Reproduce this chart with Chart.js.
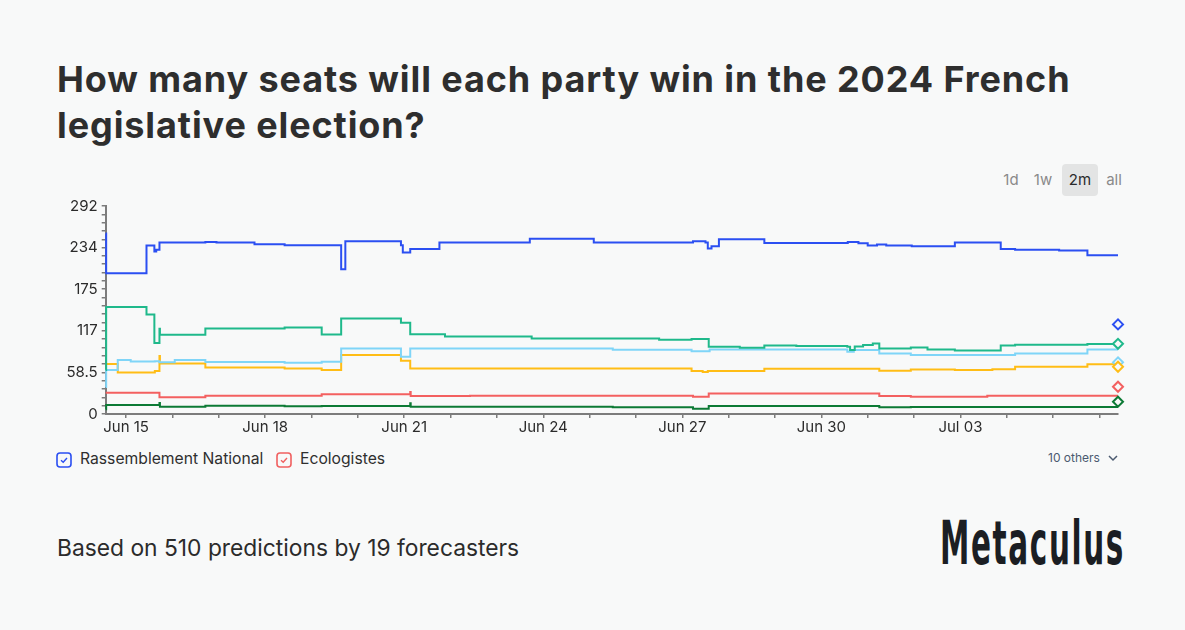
<!DOCTYPE html>
<html><head><meta charset="utf-8">
<script src="https://cdn.jsdelivr.net/npm/chart.js@4.4.1/dist/chart.umd.min.js"></script>
<style>
html,body{margin:0;padding:0;background:#f8f9f9;}
body{width:1185px;height:630px;position:relative;overflow:hidden;font-family:Inter,'Noto Sans',sans-serif;color:#2b2b2b;}
#title{position:absolute;left:57px;top:56px;width:1110px;font-size:36px;font-weight:700;line-height:46px;color:#2e2e2e;letter-spacing:0.9px;}
#chartwrap{position:absolute;left:0;top:0;width:1185px;height:445px;}
.btn{position:absolute;top:164px;height:32px;line-height:32px;font-size:15px;color:#8a8a8a;text-align:center;}
.btn.on{background:#e3e4e4;border-radius:4px;color:#2b2b2b;}
.leg{position:absolute;top:448px;height:22px;line-height:22px;font-size:15.7px;color:#2f2f2f;}
.leg svg{position:absolute;left:0;top:4px;}
#others{position:absolute;left:1048px;top:449px;font-size:12px;line-height:18px;color:#4b5a70;}
#based{position:absolute;left:57px;top:535px;font-size:22.8px;line-height:26px;color:#2b2b2b;}
#logo{position:absolute;left:940px;top:512px;font-family:'Liberation Sans Narrow','DejaVu Sans Condensed',sans-serif;font-weight:700;font-size:61px;line-height:61px;color:#1b1e23;transform-origin:0 0;white-space:nowrap;letter-spacing:3px;}
</style></head>
<body>
<div id="title">How many seats will each party win in the 2024 French legislative election?</div>
<div class="btn" style="left:1000px;width:22px;">1d</div>
<div class="btn" style="left:1031px;width:24px;">1w</div>
<div class="btn on" style="left:1062px;width:36px;">2m</div>
<div class="btn" style="left:1103px;width:22px;">all</div>
<div id="chartwrap"><canvas id="c"></canvas></div>
<div class="leg" style="left:56px;padding-left:24px;"><svg width="16" height="16" viewBox="0 0 16 16"><rect x="1" y="1" width="14" height="14" rx="3" fill="none" stroke="#2b4ff2" stroke-width="1.6"/><path d="M5 8.2 L7.2 10.3 L11 6" fill="none" stroke="#2b4ff2" stroke-width="1.4"/></svg>Rassemblement National</div>
<div class="leg" style="left:276px;padding-left:24px;"><svg width="16" height="16" viewBox="0 0 16 16"><rect x="1" y="1" width="14" height="14" rx="3" fill="none" stroke="#f06060" stroke-width="1.6"/><path d="M5 8.2 L7.2 10.3 L11 6" fill="none" stroke="#f06060" stroke-width="1.4"/></svg>Ecologistes</div>
<div id="others">10 others <svg width="12" height="10" viewBox="0 0 12 10" style="margin-left:4px;vertical-align:-1px"><path d="M2 3 L6 7 L10 3" fill="none" stroke="#4b5a70" stroke-width="1.5"/></svg></div>
<div id="based">Based on 510 predictions by 19 forecasters</div>
<div id="logo">Metaculus</div>
<script>
// x values: days since Jun 15 (00:00)
const xMin = -0.44, xMax = 21.4;
const xTickDays = [0,1,2,3,4,5,6,7,8,9,10,11,12,13,14,15,16,17,18,19,20,21];
const xLabelDays = [0,3,6,9,12,15,18];
const xLabels = ['Jun 15','Jun 18','Jun 21','Jun 24','Jun 27','Jun 30','Jul 03'];
const yTickValues = [0,11.7,23.4,35.1,46.8,58.5,70.2,81.9,93.6,105.3,117,128.7,140.4,152.1,163.8,175.5,187.2,198.9,210.6,222.3,234,245.7,257.4,269.1,280.8,292.5];
const yLabels = ['0','58.5','117','175','234','292'];

const blueT = [-0.44,-0.43,0.44,0.61,0.65,0.72,1.71,1.95,2.77,3.42,4.64,4.73,5.93,5.97,6.13,6.76,8.71,10.09,12.23,12.5,12.55,12.63,12.79,13.77,15.57,15.8,16.0,16.2,16.4,16.95,17.88,18.87,19.18,20.13,20.74,21.4];
const blueV = [254,198,236.8,228.4,231,241,242,241,238.6,237.3,203.6,243,237.3,227,232,241,246.6,241,243,241,232.6,236,245.7,240.5,242,240,236.8,238.5,236.8,235.8,241,232,231,230,223.2,223.2];

const tealT = [-0.44,-0.43,0.44,0.61,0.72,0.73,1.71,3.42,4.22,4.64,5.93,6.13,6.88,8.75,11.5,12.2,12.57,13.24,13.77,14.46,15.56,15.62,15.72,15.9,16.11,16.25,16.93,17.29,17.88,18.87,19.18,20.74,21.4];
const tealV = [62,150.6,140,100,120,111.4,120.3,121.7,111.9,134.3,128.2,112.3,109,106.2,104.4,105.5,94.5,93.1,96.4,95.5,94.5,89.9,95,97,99.2,92.2,93.6,90.8,89.4,96.4,97.3,98.3,98.3];

const lightT = [-0.44,-0.43,-0.18,0.1,0.62,0.72,1.05,1.71,3.42,4.22,4.64,5.93,6.13,10.5,12.2,12.59,15.56,15.7,16.25,16.93,19.18,20.74,21.4];
const lightV = [38,61.8,75.8,74,74.3,72.6,75.8,73,72,73.4,92.2,80.5,92.2,90.3,88.4,90.8,87.5,90,85.2,82.8,85.2,90.8,90.8];

const yellowT = [-0.44,-0.18,0.62,0.72,0.73,1.71,3.42,4.22,4.64,5.93,6.13,12.2,12.44,12.55,13.77,16.25,16.93,17.88,18.69,19.18,20.74,21.4];
const yellowV = [70.2,58.5,60.4,81.4,71.1,65.5,64.1,61.8,82.8,74.9,64.1,60.4,59,60.4,63.6,60.8,62.7,61.8,63.1,66.4,69.8,69.8];

const redT = [-0.44,0.72,1.71,4.22,6.13,6.14,7.42,12.23,12.57,16.25,16.93,18.58,21.4];
const redV = [29.9,23.4,25.7,27.6,31,25.3,25.7,24.3,29,25.3,24.3,25.7,25.7];

const greenT = [-0.44,-0.43,0.72,0.73,1.71,3.42,4.22,6.13,6.14,10.5,12.23,12.57,16.25,16.93,21.4];
const greenV = [6.6,12.6,15.5,10.3,11.7,11,11.2,15,10.3,9.4,7.5,11.2,9.4,9.8,9.8];

const markerV = [126,98.7,72.6,66.4,38.3,17.3];
const colors = ['#2b4ff2','#1fb98b','#7fd5f8','#ffbd16','#f36060','#0c7a35'];

const pts = (t,v) => t.map((x,i)=>({x:x,y:v[i]}));
const series = [[blueT,blueV],[tealT,tealV],[lightT,lightV],[yellowT,yellowV],[redT,redV],[greenT,greenV]];

const datasets = [{
  data: markerV.map(v=>({x:xMax,y:v})),
  showLine:false, pointStyle:'rectRot', pointRadius:5, pointBorderWidth:2,
  pointBorderColor:colors, pointBackgroundColor:'#f8f9f9', clip:false
}];
series.forEach((s,i)=>datasets.push({
  data: pts(s[0],s[1]), stepped:'before', borderColor:colors[i], borderWidth:2,
  pointRadius:0, fill:false, clip:false
}));

new Chart(document.getElementById('c'), {
  type:'line',
  data:{datasets},
  options:{
    responsive:true, maintainAspectRatio:false, animation:false,
    layout:{padding:{left:40,right:67,top:206,bottom:0}},
    plugins:{legend:{display:false},tooltip:{enabled:false}},
    scales:{
      x:{type:'linear',min:xMin,max:xMax,
        afterBuildTicks:s=>{s.ticks=xTickDays.map(v=>({value:v}));},
        afterFit:s=>{s.height=31;},
        ticks:{autoSkip:false,maxRotation:0,padding:0,color:'#2b2b2b',font:{family:'Inter',size:15},
          callback:(v)=>{const k=xLabelDays.indexOf(v);return k>=0?xLabels[k]:'';}},
        grid:{drawOnChartArea:false,drawTicks:true,tickLength:4,color:'#7c7c7c',lineWidth:1.5},
        border:{display:true,color:'#7c7c7c',width:2}},
      y:{type:'linear',min:0,max:292.5,
        afterBuildTicks:s=>{s.ticks=yTickValues.map(v=>({value:v}));},
        afterFit:s=>{s.width=65.7;},
        ticks:{autoSkip:false,padding:4,color:'#2b2b2b',font:{family:'Inter',size:15},
          callback:(v,i)=> i%5===0 ? yLabels[i/5] : ''},
        grid:{drawOnChartArea:false,drawTicks:true,tickLength:4,color:'#7c7c7c',lineWidth:1.5},
        border:{display:true,color:'#7c7c7c',width:2}}
    }
  }
});

const logo=document.getElementById('logo');
const w=logo.getBoundingClientRect().width;
logo.style.transform='scaleX('+(185/w)+')';
</script>
</body></html>
